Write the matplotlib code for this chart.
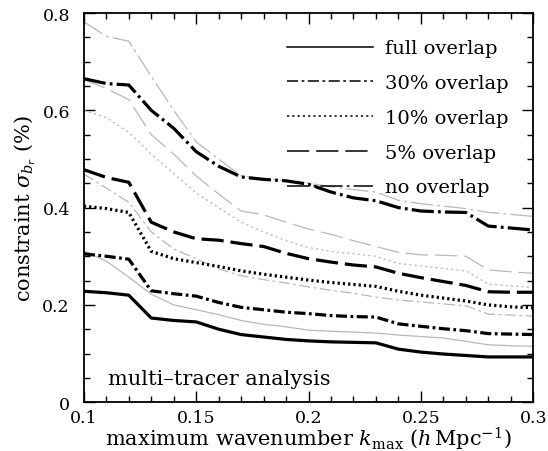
import matplotlib
matplotlib.use("Agg")
import matplotlib.pyplot as plt
from matplotlib.lines import Line2D
import numpy as np

plt.rcParams['font.family'] = 'DejaVu Serif'
plt.rcParams['mathtext.fontset'] = 'dejavuserif'
plt.rcParams['lines.scale_dashes'] = False

kmax = [0.10, 0.11, 0.12, 0.13, 0.14, 0.15, 0.16, 0.17, 0.18, 0.19, 0.20,
        0.21, 0.22, 0.23, 0.24, 0.25, 0.26, 0.27, 0.28, 0.29, 0.30]

# thick black curves (multi-tracer)
full_mt = [0.228, 0.225, 0.220, 0.173, 0.168, 0.165, 0.150, 0.139, 0.134, 0.129, 0.126,
           0.124, 0.123, 0.122, 0.109, 0.103, 0.099, 0.096, 0.093, 0.093, 0.093]
ov30_mt = [0.305, 0.300, 0.294, 0.229, 0.223, 0.218, 0.205, 0.195, 0.190, 0.185, 0.182,
           0.178, 0.176, 0.175, 0.161, 0.156, 0.151, 0.147, 0.141, 0.140, 0.139]
ov10_mt = [0.403, 0.398, 0.390, 0.310, 0.295, 0.287, 0.279, 0.270, 0.263, 0.257, 0.251,
           0.246, 0.242, 0.238, 0.228, 0.220, 0.214, 0.208, 0.200, 0.196, 0.194]
ov05_mt = [0.478, 0.462, 0.452, 0.370, 0.350, 0.336, 0.333, 0.326, 0.320, 0.306, 0.295,
           0.288, 0.282, 0.278, 0.265, 0.256, 0.248, 0.240, 0.227, 0.226, 0.226]
ov00_mt = [0.665, 0.655, 0.652, 0.600, 0.563, 0.515, 0.485, 0.463, 0.458, 0.455, 0.448,
           0.432, 0.420, 0.414, 0.400, 0.393, 0.391, 0.390, 0.362, 0.358, 0.354]

# thin grey curves
full_g = [0.311, 0.290, 0.257, 0.222, 0.200, 0.190, 0.180, 0.168, 0.160, 0.155, 0.148,
          0.146, 0.144, 0.142, 0.138, 0.135, 0.132, 0.125, 0.118, 0.116, 0.115]
ov30_g = [0.469, 0.440, 0.411, 0.350, 0.315, 0.295, 0.274, 0.260, 0.252, 0.245, 0.237,
          0.230, 0.224, 0.216, 0.210, 0.206, 0.202, 0.198, 0.181, 0.179, 0.177]
ov10_g = [0.600, 0.585, 0.555, 0.510, 0.470, 0.430, 0.400, 0.370, 0.350, 0.332, 0.318,
          0.310, 0.305, 0.300, 0.285, 0.280, 0.275, 0.270, 0.243, 0.239, 0.236]
ov05_g = [0.663, 0.645, 0.622, 0.550, 0.510, 0.465, 0.428, 0.393, 0.385, 0.370, 0.356,
          0.345, 0.332, 0.320, 0.308, 0.303, 0.302, 0.300, 0.272, 0.268, 0.265]
ov00_g = [0.782, 0.752, 0.742, 0.670, 0.600, 0.535, 0.500, 0.465, 0.460, 0.455, 0.450,
          0.443, 0.437, 0.432, 0.415, 0.408, 0.403, 0.398, 0.390, 0.386, 0.382]

labels = ['full overlap', '30% overlap', '10% overlap', '5% overlap', 'no overlap']
dashes = [None, (8, 2.5, 2, 2.5), (1.6, 2.2), (16, 5), (16, 3, 2, 3)]

fig = plt.figure(figsize=(5.48, 4.52), dpi=100)
ax = fig.add_axes([0.153, 0.108, 0.820, 0.861])

grey_sets = [full_g, ov30_g, ov10_g, ov05_g, ov00_g]
black_sets = [full_mt, ov30_mt, ov10_mt, ov05_mt, ov00_mt]

for ys, d in zip(grey_sets, dashes):
    ln, = ax.plot(kmax, ys, color='0.72', lw=0.9)
    if d is not None:
        ln.set_dashes(d)

for ys, d in zip(black_sets, dashes):
    ln, = ax.plot(kmax, ys, color='black', lw=2.3)
    if d is not None:
        ln.set_dashes(d)

handles = []
for d in dashes:
    h = Line2D([0], [0], color='black', lw=1.1)
    if d is not None:
        h.set_dashes(d)
    handles.append(h)
ax.legend(handles, labels, loc='upper left', frameon=False, fontsize=14,
          handlelength=4.4, handletextpad=0.62, labelspacing=0.86,
          borderpad=0, borderaxespad=0, bbox_to_anchor=(0.452, 0.932))

ax.text(0.053, 0.06, 'multi\u2013tracer analysis', transform=ax.transAxes,
        fontsize=15, va='center', ha='left')

ax.set_xlim(0.1, 0.3)
ax.set_ylim(0, 0.8)
ax.set_xticks([0.1, 0.15, 0.2, 0.25, 0.3])
ax.set_xticklabels(['0.1', '0.15', '0.2', '0.25', '0.3'])
ax.set_yticks([0, 0.2, 0.4, 0.6, 0.8])
ax.set_yticklabels(['0', '0.2', '0.4', '0.6', '0.8'])
ax.set_xticks(np.arange(0.1, 0.3001, 0.01), minor=True)
ax.set_yticks(np.arange(0, 0.8001, 0.05), minor=True)
ax.tick_params(which='both', direction='in', top=True, right=True, labelsize=12.5, width=1)
ax.tick_params(which='major', length=8)
ax.tick_params(axis='x', which='major', pad=5)
ax.tick_params(axis='y', which='major', pad=10)
ax.tick_params(which='minor', length=4)
for s in ax.spines.values():
    s.set_linewidth(1.3)

ax.set_xlabel(r'maximum wavenumber $k_{\rm max}$ ($h\,$Mpc$^{-1}$)', fontsize=15, labelpad=-1)
ax.set_ylabel(r'constraint $\sigma_{b_r}$ (%)', fontsize=15, labelpad=3)

fig.savefig('out.png', dpi=100)
